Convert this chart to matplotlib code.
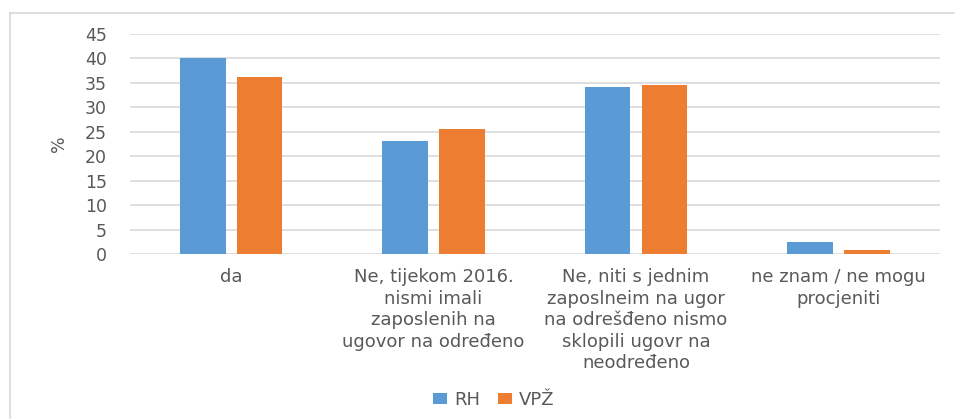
import matplotlib.pyplot as plt
import numpy as np
from matplotlib.lines import Line2D

categories = ["da",
              "Ne, tijekom 2016.\nnismi imali\nzaposlenih na\nugovor na određeno",
              "Ne, niti s jednim\nzaposlneim na ugor\nna odrešđeno nismo\nsklopili ugovr na\nneodređeno",
              "ne znam / ne mogu\nprocjeniti"]
rh = [40.1, 23.0, 34.0, 2.6]
vpz = [36.1, 25.6, 34.6, 0.8]
yticks = list(range(0, 50, 5))

plt.rcParams['font.family'] = ['DejaVu Sans']
grey = '#595959'
fs = 13

fig = plt.figure(figsize=(9.55, 4.19), dpi=100)
ax = fig.add_axes([0.136, 0.393, 0.848, 0.527])

x = np.arange(len(categories))
w = 0.225
ax.bar(x - 0.14, rh, w, color='#5b9bd5', label='RH', zorder=3)
ax.bar(x + 0.14, vpz, w, color='#ed7d31', label='VPŽ', zorder=3)

ax.set_xlim(-0.5, len(categories) - 0.5)
ax.set_ylim(0, 45)
ax.set_yticks(yticks)
ax.yaxis.grid(True, color='#d9d9d9', linewidth=1.2, zorder=0)
for s in ax.spines.values():
    s.set_visible(False)
ax.tick_params(axis='both', length=0, colors=grey, labelsize=12.5)
ax.tick_params(axis='y', pad=16.5)
ax.set_xticks(x)
ax.set_xticklabels(categories, linespacing=1.25, color=grey, fontsize=fs)
ax.tick_params(axis='x', pad=10)
ax.set_ylabel('%', color=grey, fontsize=12.5, labelpad=12)

fig.legend(loc='center', bbox_to_anchor=(0.517, 0.045), ncol=2, frameon=False,
           fontsize=fs, labelcolor=grey, handlelength=0.75, handleheight=0.55,
           columnspacing=1.0, handletextpad=0.4)

# chart border
fig.add_artist(Line2D([10/955, 1], [1 - 13/419, 1 - 13/419], color='#d9d9d9', lw=1.2))
fig.add_artist(Line2D([10/955, 10/955], [0, 1 - 13/419], color='#d9d9d9', lw=1.2))

fig.savefig('out.png', dpi=100)
